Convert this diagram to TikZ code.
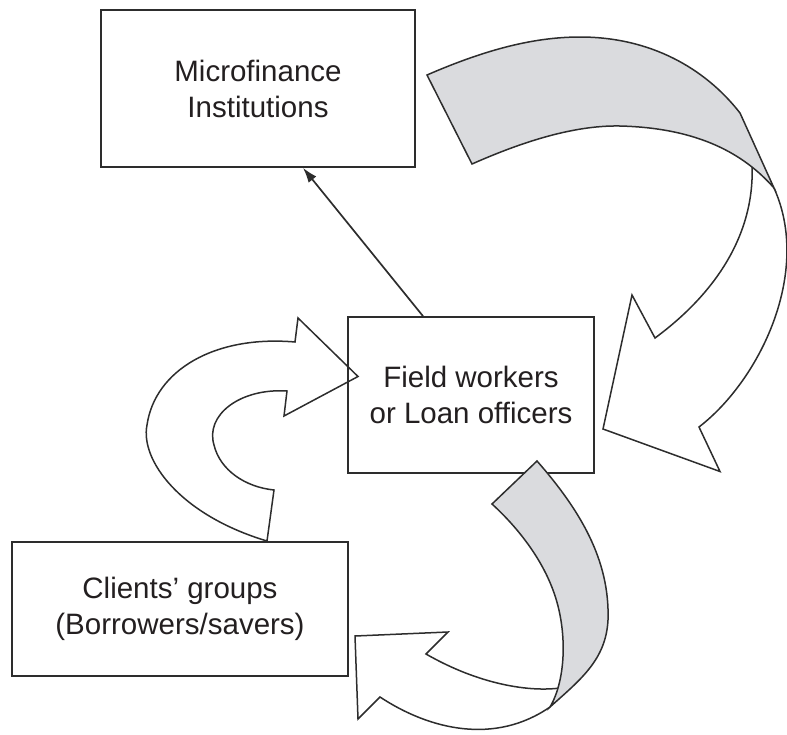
\documentclass[tikz,border=0pt]{standalone}
\usepackage{fontspec}
\setmainfont{Liberation Sans}
\usetikzlibrary{arrows.meta}
\definecolor{ink}{RGB}{35,31,32}
\definecolor{edgecol}{RGB}{45,45,45}
\definecolor{ribbon}{RGB}{218,219,222}
\begin{document}
\begin{tikzpicture}[x=1pt,y=-1pt,
  box/.style={draw=edgecol, line width=1.7pt, align=center, text=ink,
    font=\fontsize{29.5}{36}\selectfont, inner sep=0pt},
  outline/.style={draw=edgecol, line width=1.5pt, line join=miter},
  whitebody/.style={fill=white},
  greyband/.style={fill=ribbon, draw=edgecol, line width=1.5pt, line join=miter},
  conn/.style={draw=edgecol, line width=1.7pt, -{Latex[length=15pt,width=10pt]}}]
\useasboundingbox (0,0) rectangle (787,734);

% left curved arrow (clients -> field workers)
\path[outline] (267,541) .. controls (180,515) and (140,460) .. (147,425)
  .. controls (155,370) and (215,335) .. (295,342)
  -- (298,318) -- (358,376.5) -- (284,416) -- (287,391)
  .. controls (240,388) and (205,415) .. (214,445)
  .. controls (220,470) and (245,487) .. (274,490) -- cycle;

% boxes
\node[box, minimum width=314pt, minimum height=157pt] (mfi) at (258,88.5) {Microfinance\\Institutions};
\node[box, minimum width=246pt, minimum height=156pt] (field) at (471,395) {Field workers\\or Loan officers};
\node[box, minimum width=336pt, minimum height=134pt] (clients) at (180,609) {Clients’ groups\\(Borrowers/savers)};

% straight connector field -> MFI
\draw[conn] ([xshift=-48pt]field.north) -- ([xshift=45pt]mfi.south);

% top-right ribbon arrow (MFI -> field workers)
\fill[whitebody] (752,164) .. controls (755,230) and (720,290) .. (655,338)
  -- (632,295) -- (603,429) -- (720,471.5) -- (699,427)
  .. controls (760,380) and (812,272) .. (774,188) -- (760,160) -- cycle;
\draw[outline] (752,164) .. controls (755,230) and (720,290) .. (655,338)
  -- (632,295) -- (603,429) -- (720,471.5) -- (699,427)
  .. controls (760,380) and (812,272) .. (774,188);
\path[greyband] (427,75) .. controls (480,52) and (530,37) .. (580,37)
  .. controls (650,37) and (705,68) .. (740,113) -- (774,188)
  .. controls (745,155) and (700,128) .. (620,126)
  .. controls (570,125) and (515,145) .. (472,164) -- cycle;

% bottom ribbon arrow (field workers -> clients)
\fill[whitebody] (560,688) .. controls (530,692) and (480,685) .. (426,654)
  -- (448,632) -- (355,636) -- (358,719) -- (380,697)
  .. controls (430,730) and (495,745) .. (550,707) -- (565,690) -- cycle;
\draw[outline] (560,688) .. controls (530,692) and (480,685) .. (426,654)
  -- (448,632) -- (355,636) -- (358,719) -- (380,697)
  .. controls (430,730) and (495,745) .. (550,707);
\path[greyband] (492,504) -- (537,461)
  .. controls (580,510) and (610,560) .. (608,620)
  .. controls (606,660) and (580,680) .. (550,707)
  .. controls (566,680) and (568,630) .. (553,590)
  .. controls (540,555) and (515,525) .. (492,504) -- cycle;
\end{tikzpicture}
\end{document}
